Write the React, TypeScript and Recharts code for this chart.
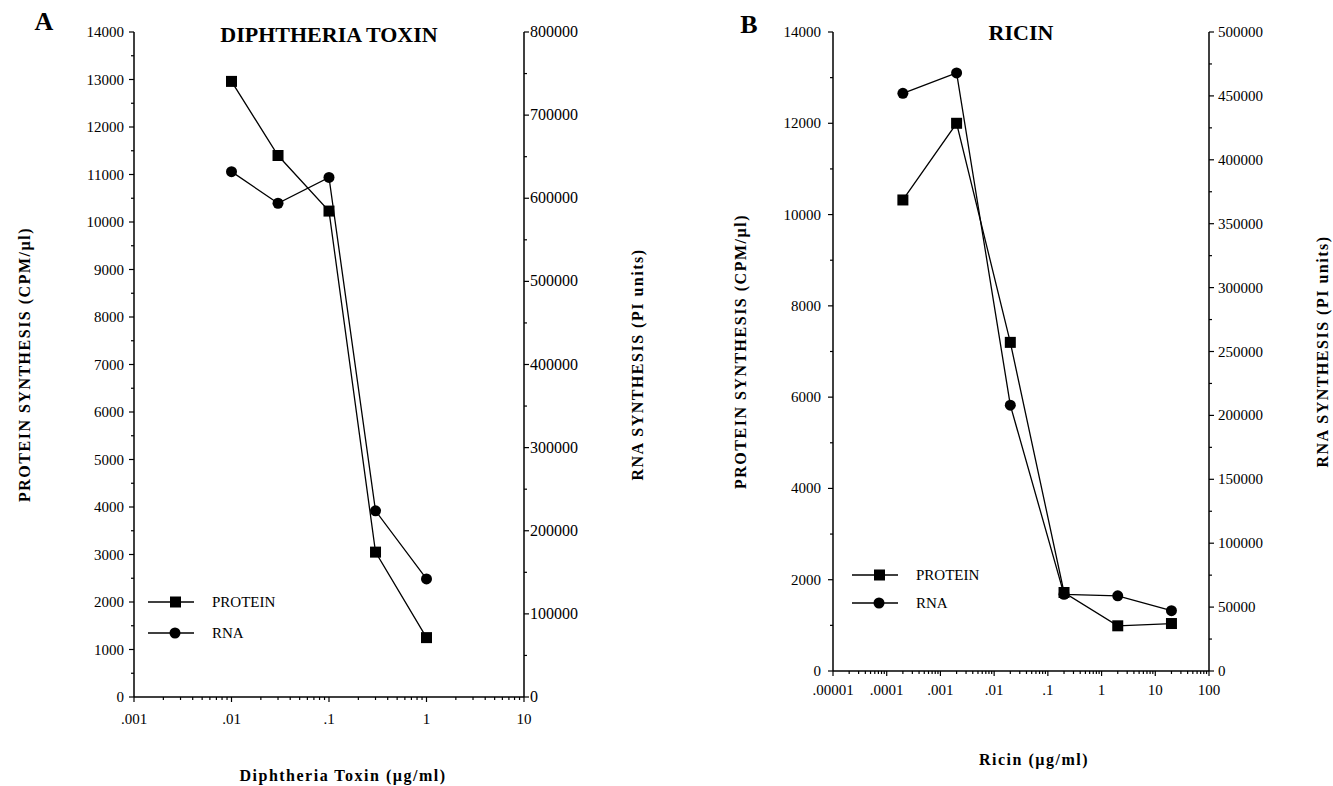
import React from 'react';
import { LineChart, Line, XAxis, YAxis } from 'recharts';

const FONT = '"Liberation Serif", "Times New Roman", serif';

// panel A: diphtheria toxin
const dtDose = [0.01, 0.03, 0.1, 0.3, 1];
const dtProtein = [12960, 11400, 10230, 3050, 1250];
const dtRna = [632000, 594000, 625000, 224000, 142000];

// panel B: ricin
const ricinDose = [0.0002, 0.002, 0.02, 0.2, 2, 20];
const ricinProtein = [10320, 12000, 7200, 1720, 990, 1040];
const ricinRna = [452000, 468000, 208000, 60000, 58800, 47200];

const dtDecades = [0.001, 0.01, 0.1, 1, 10];
const dtDecadeLabels = ['.001', '.01', '.1', '1', '10'];
const ricinDecades = [0.00001, 0.0001, 0.001, 0.01, 0.1, 1, 10, 100];
const ricinDecadeLabels = ['.00001', '.0001', '.001', '.01', '.1', '1', '10', '100'];

const dtProteinTicks = [0, 1000, 2000, 3000, 4000, 5000, 6000, 7000, 8000, 9000, 10000, 11000, 12000, 13000, 14000];
const dtRnaTicks = [0, 100000, 200000, 300000, 400000, 500000, 600000, 700000, 800000];
const ricinProteinTicks = [0, 2000, 4000, 6000, 8000, 10000, 12000, 14000];
const ricinRnaTicks = [0, 50000, 100000, 150000, 200000, 250000, 300000, 350000, 400000, 450000, 500000];

const legendNames = ['PROTEIN', 'RNA'];

// major ticks plus a minor one half way between
const halfSteps = (major: number[]) =>
  major.flatMap((v, i) => (i < major.length - 1 ? [v, (v + major[i + 1]) / 2] : [v]));
const logSteps = (decades: number[]) =>
  decades.flatMap((d, i) => (i < decades.length - 1 ? [1, 2, 3, 4, 5, 6, 7, 8, 9].map((k) => k * d) : [d]));

const LogTick = ({ x, y, payload, decades, labels, labelDy }: any) => {
  const i = decades.findIndex((d: number) => Math.abs(payload.value / d - 1) < 1e-6);
  return (
    <g>
      <line x1={x} x2={x} y1={y} y2={y + (i >= 0 ? 5 : 3)} stroke="#000" strokeWidth={1.2} />
      {i >= 0 && (
        <text x={x} y={y + labelDy} textAnchor="middle" fontFamily={FONT} fontSize={15} fill="#000">
          {labels[i]}
        </text>
      )}
    </g>
  );
};

const SideTick = ({ x, y, payload, majors, side, gap, size }: any) => {
  const major = majors.includes(payload.value);
  const dir = side === 'left' ? -1 : 1;
  return (
    <g>
      <line x1={x} x2={x + dir * (major ? 5 : 3)} y1={y} y2={y} stroke="#000" strokeWidth={1.2} />
      {major && (
        <text
          x={x + dir * gap}
          y={y}
          dy={5}
          textAnchor={side === 'left' ? 'end' : 'start'}
          fontFamily={FONT}
          fontSize={size}
          fill="#000"
        >
          {payload.value}
        </text>
      )}
    </g>
  );
};

const SquareDot = ({ cx, cy }: any) => <rect x={cx - 5.5} y={cy - 5.5} width={11} height={11} fill="#000" />;
const CircleDot = ({ cx, cy }: any) => <circle cx={cx} cy={cy} r={5.5} fill="#000" />;

const axisLabel = { fontFamily: FONT, fontWeight: 'bold', fontSize: 16, letterSpacing: 1.5, fill: '#000', textAnchor: 'middle' } as any;

interface PanelProps {
  left: number;
  width: number;
  dose: number[];
  protein: number[];
  rna: number[];
  decades: number[];
  decadeLabels: string[];
  proteinTicks: number[];
  rnaTicks: number[];
  leftW: number;
  rightW: number;
  xH: number;
  xLabel: string;
  xLabelOffset: number;
  xLabelDx: number;
  leftLabelOffset: number;
  rightLabelOffset: number;
  xLabelDy: number;
  leftGap: number;
  rightGap: number;
  rightSize: number;
}

const Panel = (p: PanelProps) => {
  const data = p.dose.map((d, i) => ({ dose: d, protein: p.protein[i], rna: p.rna[i] }));
  const proteinMax = p.proteinTicks[p.proteinTicks.length - 1];
  const rnaMax = p.rnaTicks[p.rnaTicks.length - 1];
  return (
    <div style={{ position: 'absolute', left: p.left, top: 0 }}>
      <LineChart width={p.width} height={786} data={data} margin={{ top: 32, right: 0, bottom: 0, left: 0 }}>
        <XAxis
          dataKey="dose"
          type="number"
          scale="log"
          domain={[p.decades[0], p.decades[p.decades.length - 1]]}
          ticks={logSteps(p.decades)}
          interval={0}
          allowDataOverflow
          height={p.xH}
          axisLine={{ stroke: '#000', strokeWidth: 1.5 }}
          tickLine={false}
          tickSize={0}
          tickMargin={0}
          tick={(t: any) => <LogTick {...t} decades={p.decades} labels={p.decadeLabels} labelDy={p.xLabelDy} />}
          label={{ value: p.xLabel, position: 'insideBottom', offset: p.xLabelOffset, dx: p.xLabelDx, style: axisLabel }}
        />
        <YAxis
          yAxisId="l"
          domain={[0, proteinMax]}
          ticks={halfSteps(p.proteinTicks)}
          interval={0}
          width={p.leftW}
          axisLine={{ stroke: '#000', strokeWidth: 1.5 }}
          tickLine={false}
          tickSize={0}
          tickMargin={0}
          tick={(t: any) => <SideTick {...t} majors={p.proteinTicks} side="left" gap={p.leftGap} size={15} />}
          label={{ value: 'PROTEIN  SYNTHESIS  (CPM/µl)', angle: -90, position: 'insideLeft', offset: p.leftLabelOffset, style: axisLabel }}
        />
        <YAxis
          yAxisId="r"
          orientation="right"
          domain={[0, rnaMax]}
          ticks={halfSteps(p.rnaTicks)}
          interval={0}
          width={p.rightW}
          axisLine={{ stroke: '#000', strokeWidth: 1.5 }}
          tickLine={false}
          tickSize={0}
          tickMargin={0}
          tick={(t: any) => <SideTick {...t} majors={p.rnaTicks} side="right" gap={p.rightGap} size={p.rightSize} />}
          label={{ value: 'RNA  SYNTHESIS  (PI  units)', angle: -90, position: 'insideRight', offset: p.rightLabelOffset, style: axisLabel }}
        />
        <Line
          yAxisId="l"
          dataKey="protein"
          type="linear"
          stroke="#000"
          strokeWidth={1.3}
          dot={(d: any) => <SquareDot key={`s${d.index}`} {...d} />}
          isAnimationActive={false}
        />
        <Line
          yAxisId="r"
          dataKey="rna"
          type="linear"
          stroke="#000"
          strokeWidth={1.3}
          dot={(d: any) => <CircleDot key={`c${d.index}`} {...d} />}
          isAnimationActive={false}
        />
      </LineChart>
    </div>
  );
};

const LegendBox = ({ x, y, gap }: { x: number; y: number; gap: number }) => (
  <g>
    {legendNames.map((name, i) => {
      const cy = y + i * gap;
      return (
        <g key={name}>
          <line x1={x} x2={x + 46} y1={cy} y2={cy} stroke="#000" strokeWidth={1.5} />
          {i === 0 ? (
            <rect x={x + 22} y={cy - 5.5} width={11} height={11} fill="#000" />
          ) : (
            <circle cx={x + 27} cy={cy} r={5.5} fill="#000" />
          )}
          <text x={x + 64} y={cy} dy={5} fontFamily={FONT} fontSize={15} fill="#000">
            {name}
          </text>
        </g>
      );
    })}
  </g>
);

const App = () => (
  <div style={{ position: 'absolute', left: 0, top: 0, width: 1333, height: 786, background: '#fff', overflow: 'hidden' }}>
    <Panel
      left={0}
      width={666}
      dose={dtDose}
      protein={dtProtein}
      rna={dtRna}
      decades={dtDecades}
      decadeLabels={dtDecadeLabels}
      proteinTicks={dtProteinTicks}
      rnaTicks={dtRnaTicks}
      leftW={134}
      rightW={142}
      xH={89}
      xLabel="Diphtheria  Toxin  (µg/ml)"
      xLabelOffset={5}
      xLabelDx={14}
      leftLabelOffset={24}
      rightLabelOffset={29}
      xLabelDy={27}
      leftGap={10}
      rightGap={6}
      rightSize={16}
    />
    <Panel
      left={666}
      width={667}
      dose={ricinDose}
      protein={ricinProtein}
      rna={ricinRna}
      decades={ricinDecades}
      decadeLabels={ricinDecadeLabels}
      proteinTicks={ricinProteinTicks}
      rnaTicks={ricinRnaTicks}
      leftW={167}
      rightW={124}
      xH={115}
      xLabel="Ricin  (µg/ml)"
      xLabelOffset={21}
      xLabelDx={13}
      leftLabelOffset={74}
      rightLabelOffset={11}
      xLabelDy={24}
      leftGap={12}
      rightGap={9}
      rightSize={15}
    />
    <svg width={1333} height={786} style={{ position: 'absolute', left: 0, top: 0, pointerEvents: 'none' }}>
      <text x={44} y={30} textAnchor="middle" fontFamily={FONT} fontWeight="bold" fontSize={26} fill="#000">A</text>
      <text x={749} y={33} textAnchor="middle" fontFamily={FONT} fontWeight="bold" fontSize={26} fill="#000">B</text>
      <text x={329} y={42} textAnchor="middle" fontFamily={FONT} fontWeight="bold" fontSize={22} fill="#000">DIPHTHERIA  TOXIN</text>
      <text x={1021} y={40} textAnchor="middle" fontFamily={FONT} fontWeight="bold" fontSize={22} fill="#000">RICIN</text>
      <LegendBox x={148} y={602} gap={31} />
      <LegendBox x={852} y={575} gap={28} />
    </svg>
  </div>
);

export default App;
